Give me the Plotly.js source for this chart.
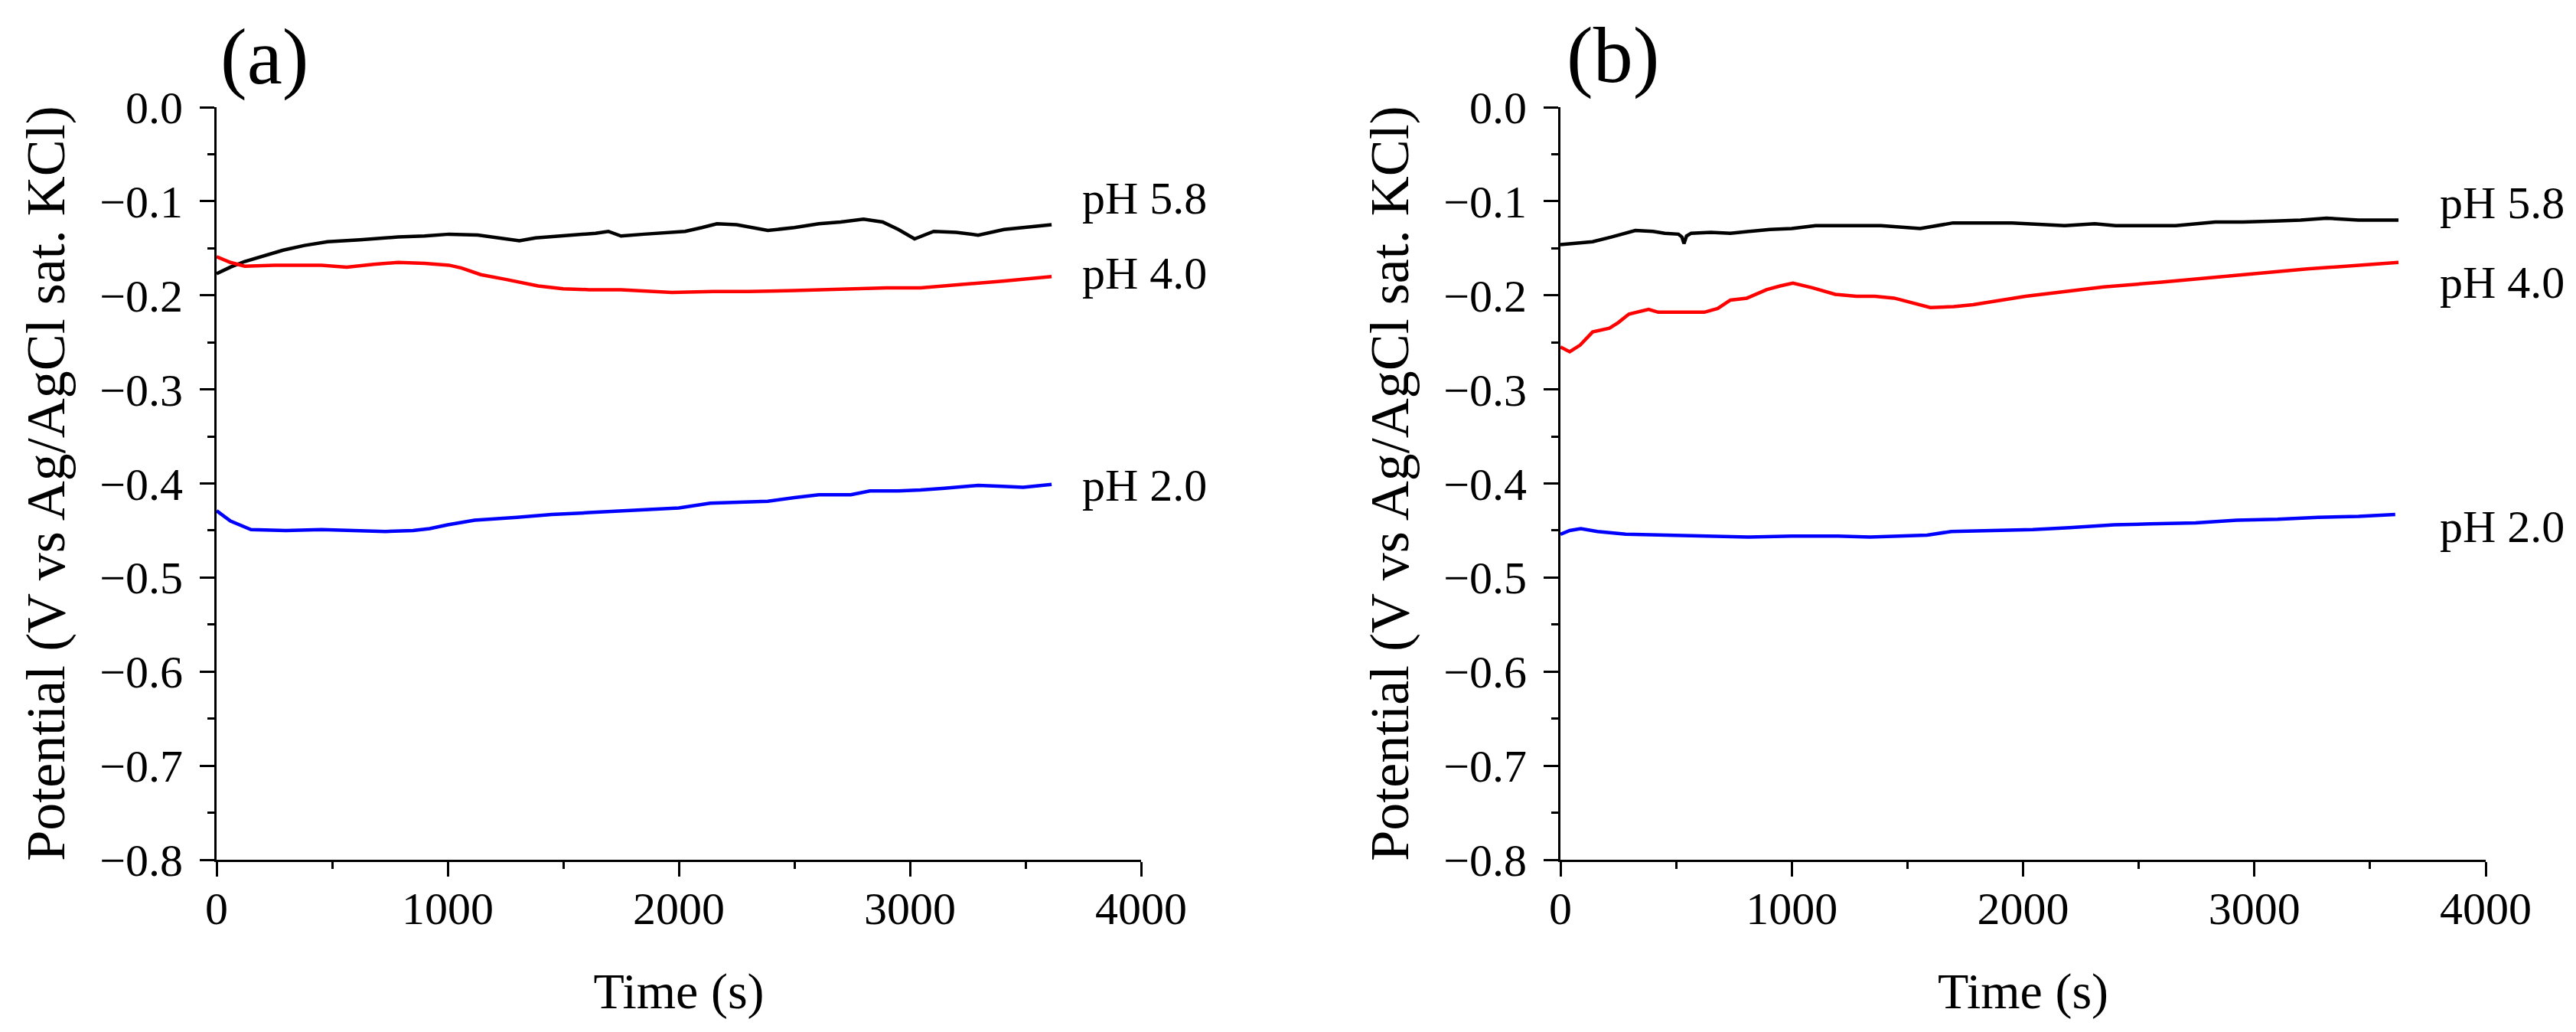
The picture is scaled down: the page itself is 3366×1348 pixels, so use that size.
<!DOCTYPE html>
<html>
<head>
<meta charset="utf-8">
<script src="https://cdn.plot.ly/plotly-3.0.1.min.js"></script>
<style>html,body{margin:0;padding:0;background:#fff;}#chart{width:3366px;height:1348px;}</style>
</head>
<body>
<div id="chart"></div>
<script>
// ---- Data ----
// Panel (a)
const tA58 = [0, 60, 122, 200, 288, 380, 480, 620, 785, 900, 1006, 1130, 1255, 1310, 1380, 1474, 1560, 1640, 1695, 1750, 1850, 1950, 2027, 2100, 2165, 2250, 2385, 2500, 2606, 2700, 2799, 2882, 2950, 3020, 3103, 3200, 3295, 3407, 3500, 3613];
const vA58 = [-0.177, -0.170, -0.164, -0.158, -0.152, -0.147, -0.143, -0.141, -0.138, -0.137, -0.135, -0.136, -0.140, -0.142, -0.139, -0.137, -0.136, -0.134, -0.132, -0.137, -0.135, -0.133, -0.132, -0.128, -0.124, -0.125, -0.131, -0.128, -0.124, -0.122, -0.119, -0.122, -0.130, -0.140, -0.132, -0.133, -0.136, -0.130, -0.128, -0.125];
const tA40 = [0, 60, 122, 250, 454, 563, 680, 785, 900, 1006, 1060, 1143, 1250, 1391, 1500, 1612, 1750, 1970, 2150, 2301, 2500, 2715, 2900, 3046, 3150, 3268, 3400, 3613];
const vA40 = [-0.159, -0.165, -0.169, -0.168, -0.168, -0.170, -0.167, -0.165, -0.166, -0.168, -0.171, -0.178, -0.183, -0.190, -0.193, -0.194, -0.194, -0.197, -0.196, -0.196, -0.195, -0.193, -0.192, -0.192, -0.190, -0.187, -0.185, -0.180];
const tA20 = [0, 60, 149, 300, 454, 600, 730, 850, 922, 1000, 1116, 1300, 1450, 1612, 1800, 2000, 2136, 2250, 2385, 2500, 2606, 2744, 2827, 2950, 3046, 3150, 3295, 3400, 3490, 3613];
const vA20 = [-0.429, -0.440, -0.449, -0.450, -0.449, -0.450, -0.451, -0.450, -0.448, -0.444, -0.439, -0.436, -0.433, -0.431, -0.429, -0.426, -0.421, -0.420, -0.419, -0.415, -0.412, -0.412, -0.408, -0.408, -0.407, -0.405, -0.402, -0.403, -0.404, -0.401];
// Panel (b)
const tB58 = [0, 60, 139, 220, 324, 400, 451, 510, 525, 534, 545, 565, 650, 735, 905, 1000, 1103, 1250, 1386, 1555, 1697, 1800, 1952, 2100, 2180, 2310, 2400, 2520, 2660, 2831, 2950, 3087, 3200, 3312, 3450, 3623];
const vB58 = [-0.146, -0.145, -0.143, -0.138, -0.131, -0.132, -0.134, -0.135, -0.138, -0.145, -0.137, -0.134, -0.133, -0.134, -0.130, -0.129, -0.126, -0.126, -0.126, -0.129, -0.123, -0.123, -0.123, -0.125, -0.126, -0.124, -0.126, -0.126, -0.126, -0.122, -0.122, -0.121, -0.120, -0.118, -0.120, -0.120];
const tB40 = [0, 40, 85, 139, 212, 250, 296, 381, 423, 622, 680, 735, 806, 891, 950, 1005, 1089, 1188, 1280, 1359, 1443, 1520, 1599, 1700, 1784, 2011, 2349, 2600, 2803, 3000, 3228, 3400, 3623];
const vB40 = [-0.255, -0.260, -0.253, -0.239, -0.235, -0.229, -0.220, -0.215, -0.218, -0.218, -0.214, -0.205, -0.203, -0.194, -0.190, -0.187, -0.192, -0.199, -0.201, -0.201, -0.203, -0.208, -0.213, -0.212, -0.210, -0.201, -0.191, -0.186, -0.181, -0.177, -0.172, -0.169, -0.165];
const tB20 = [0, 40, 88, 160, 282, 450, 634, 810, 1000, 1200, 1338, 1585, 1690, 1850, 2042, 2200, 2394, 2550, 2746, 2923, 3100, 3275, 3450, 3609];
const vB20 = [-0.454, -0.450, -0.448, -0.451, -0.454, -0.455, -0.456, -0.457, -0.456, -0.456, -0.457, -0.455, -0.451, -0.450, -0.449, -0.447, -0.444, -0.443, -0.442, -0.439, -0.438, -0.436, -0.435, -0.433];

const seriesNames = ["pH 5.8", "pH 4.0", "pH 2.0"];
const seriesColors = ["#000000", "#ff0000", "#0000ff"];
const panelLabels = ["(a)", "(b)"];
const xTitle = "Time (s)";
const yTitle = "Potential (V vs Ag/AgCl sat. KCl)";
// label anchor positions (data units) for series names
const labelXA = 3740, labelXB = 3795;
const labelYA = [-0.097, -0.177, -0.402];
const labelYB = [-0.102, -0.186, -0.446];

const FONT = "Liberation Serif, Times New Roman, serif";

function tr(x, y, i, xa, ya) {
  return {x: x, y: y, type: "scatter", mode: "lines", name: seriesNames[i],
    xaxis: xa, yaxis: ya, showlegend: false, hoverinfo: "skip",
    line: {color: seriesColors[i], width: 4.5}};
}
const data = [
  tr(tA58, vA58, 0, "x", "y"), tr(tA40, vA40, 1, "x", "y"), tr(tA20, vA20, 2, "x", "y"),
  tr(tB58, vB58, 0, "x2", "y2"), tr(tB40, vB40, 1, "x2", "y2"), tr(tB20, vB20, 2, "x2", "y2")
];

function xax(domain, anchor) {
  return {domain: domain, anchor: anchor, range: [0, 4000], dtick: 1000, tick0: 0,
    showgrid: false, zeroline: false, showline: true, linecolor: "#000", linewidth: 3,
    ticks: "outside", ticklen: 19, tickwidth: 3, tickcolor: "#000", ticklabelstandoff: -10,
    minor: {ticks: "outside", ticklen: 9, tickwidth: 3, tickcolor: "#000", dtick: 500, showgrid: false},
    tickfont: {family: FONT, size: 60, color: "#000"},
    title: {text: xTitle, font: {family: FONT, size: 66, color: "#000"}, standoff: 52},
    automargin: false, fixedrange: true};
}
function yax(domain, anchor) {
  return {domain: domain, anchor: anchor, range: [-0.8, 0], dtick: 0.1, tick0: 0, tickformat: ".1f",
    showgrid: false, zeroline: false, showline: true, linecolor: "#000", linewidth: 3,
    ticks: "outside", ticklen: 19, tickwidth: 3, tickcolor: "#000", ticklabelstandoff: 10,
    minor: {ticks: "outside", ticklen: 9, tickwidth: 3, tickcolor: "#000", dtick: 0.05, showgrid: false},
    tickfont: {family: FONT, size: 60, color: "#000"},
    title: {text: yTitle, font: {family: FONT, size: 72, color: "#000"}, standoff: 22},
    automargin: false, fixedrange: true};
}

const W = 3366, H = 1348;
const yDom = [1 - 1123 / H, 1 - 140 / H];
const annotations = [];
seriesNames.forEach((n, i) => {
  annotations.push({text: n, x: labelXA, y: labelYA[i], xref: "x", yref: "y", xanchor: "left", yanchor: "middle",
    showarrow: false, font: {family: FONT, size: 60, color: "#000"}});
  annotations.push({text: n, x: labelXB, y: labelYB[i], xref: "x2", yref: "y2", xanchor: "left", yanchor: "middle",
    showarrow: false, font: {family: FONT, size: 60, color: "#000"}});
});
annotations.push({text: panelLabels[0], x: 345 / W, y: 1 - 74 / H, xref: "paper", yref: "paper",
  xanchor: "center", yanchor: "middle", showarrow: false, font: {family: FONT, size: 104, color: "#000"}});
annotations.push({text: panelLabels[1], x: 2107 / W, y: 1 - 72 / H, xref: "paper", yref: "paper",
  xanchor: "center", yanchor: "middle", showarrow: false, font: {family: FONT, size: 104, color: "#000"}});

const layout = {
  width: W, height: H, margin: {l: 0, r: 0, t: 0, b: 0, pad: 0},
  paper_bgcolor: "#fff", plot_bgcolor: "#fff", showlegend: false,
  font: {family: FONT, color: "#000"},
  xaxis: xax([283 / W, 1491 / W], "y"),
  yaxis: yax(yDom, "x"),
  xaxis2: xax([2039 / W, 3248 / W], "y2"),
  yaxis2: yax(yDom, "x2"),
  annotations: annotations
};
Plotly.newPlot("chart", data, layout, {staticPlot: true, displayModeBar: false});
</script>
</body>
</html>
